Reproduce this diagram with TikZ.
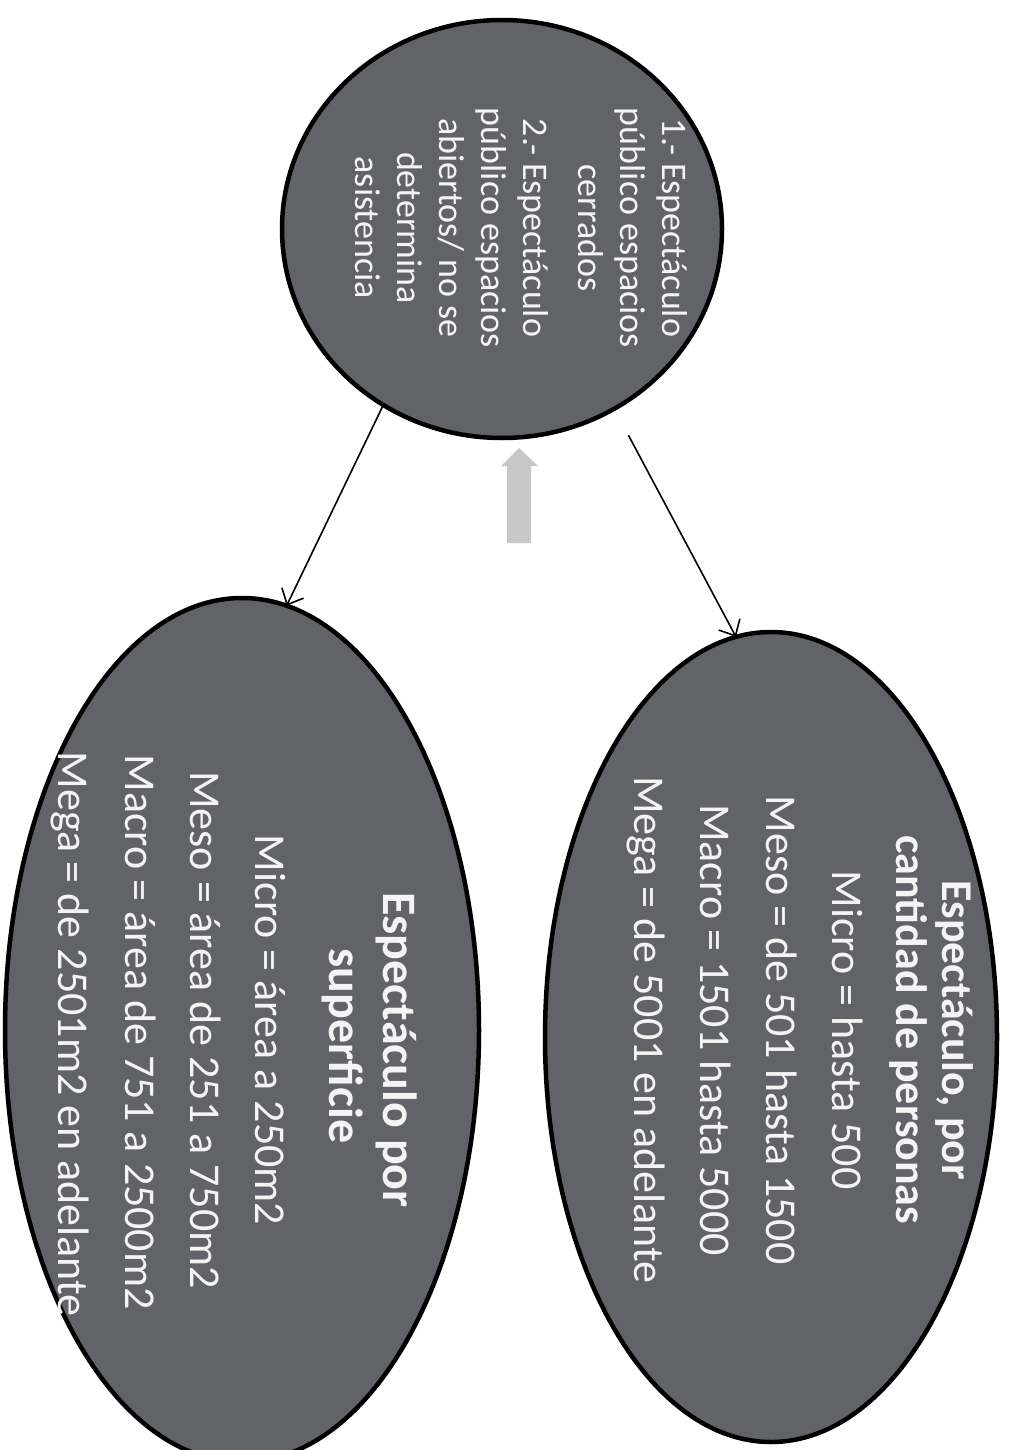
\documentclass[tikz,border=0pt]{standalone}
\usepackage{fontspec}
\setmainfont{Carlito}
\usetikzlibrary{arrows.meta,shapes.geometric}
\definecolor{blobfill}{HTML}{626269}
\definecolor{blockgray}{HTML}{C8C8C8}
\definecolor{txtwhite}{HTML}{F4F4F4}
\newcommand{\bodyfont}{\fontsize{44}{52}\selectfont}
\newcommand{\titlefontL}{\fontsize{48}{56}\selectfont\bfseries}
\newcommand{\titlefontR}{\fontsize{44}{52}\selectfont\bfseries}
\begin{document}
\begin{tikzpicture}[x=1pt,y=-1pt,
  blob/.style={ellipse, draw=black, line width=4.5pt, fill=blobfill, inner sep=0pt, outer sep=0pt},
  txt/.style={text=txtwhite, rotate=-90, align=center, inner sep=0pt},
  txtline/.style={text=txtwhite, rotate=-90, inner sep=0pt, anchor=base},
  conn/.style={line width=1.6pt, -{Straight Barb[length=13pt,width=24pt,line width=1.6pt]}}]
\useasboundingbox[fill=white] (0,0) rectangle (1012,1450);
% ellipses
\node[blob, minimum width=440pt, minimum height=418pt] (top) at (502,229) {};
\node[blob, minimum width=452pt, minimum height=810pt] (R) at (771,1037) {};
\node[blob, minimum width=474pt, minimum height=864pt] (L) at (242,1030) {};
% top text
\node[txt, font=\fontsize{36}{42}\selectfont] (toptxt) at (521,228)
 {1.- Espectáculo\\público espacios\\cerrados\\[13pt]2.- Espectáculo\\público espacios\\abiertos/ no se\\determina\\asistencia};
% right texts
\node[txtline, font=\titlefontR] (r1) at (942,1030) {Espectáculo, por};
\node[txtline, font=\titlefontR] (r2) at (896,1030) {cantidad de personas};
\node[txtline, font=\bodyfont] (r3) at (832,1030) {Micro = hasta 500};
\node[txtline, font=\bodyfont] (r4) at (766,1030) {Meso = de 501 hasta 1500};
\node[txtline, font=\bodyfont] (r5) at (700,1030) {Macro = 1501 hasta 5000};
\node[txtline, font=\bodyfont] (r6) at (634,1030) {Mega = de 5001 en adelante};
% left texts
\node[txtline, font=\titlefontL] (l1) at (383,1050) {Espectáculo por};
\node[txtline, font=\titlefontL] (l2) at (329,1046) {superficie};
\node[txtline, font=\bodyfont] (l3) at (255,1030) {Micro = área a 250m2};
\node[txtline, font=\bodyfont] (l4) at (190,1030) {Meso = área de 251 a 750m2};
\node[txtline, font=\bodyfont] (l5) at (125,1032) {Macro = área de 751 a 2500m2};
\node[txtline, font=\bodyfont] (l6) at (58,1034) {Mega = de 2501m2 en adelante};
% connectors
\draw[conn] (top.236) -- (L.84.7);
\draw[conn, shorten <=30pt] (top.302) -- (R.95.5);
% gray block arrow
\fill[blockgray] (507,543) -- (507,466) -- (501,466) -- (519,448) -- (538,466) -- (531,466) -- (531,543) -- cycle;
\end{tikzpicture}
\end{document}
